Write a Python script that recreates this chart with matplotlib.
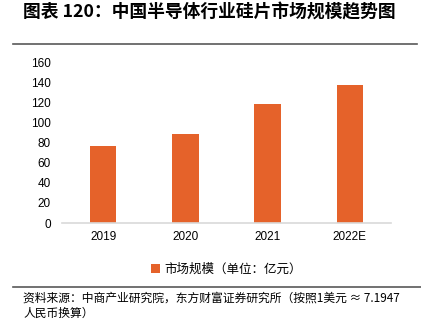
import matplotlib.pyplot as plt
from matplotlib.lines import Line2D

plt.rcParams['font.family'] = ['Liberation Sans', 'Noto Sans CJK SC', 'DejaVu Sans']

years = ['2019', '2020', '2021', '2022E']
market_size = [77, 89, 119, 138]
yticks = [0, 20, 40, 60, 80, 100, 120, 140, 160]

bar_color = '#E5622A'

fig = plt.figure(figsize=(4.21, 3.21), dpi=100)
ax = fig.add_axes([62 / 421, 1 - 223 / 321, 329 / 421, 160 / 321])

x = range(len(years))
ax.bar(x, market_size, width=0.32, color=bar_color, label='市场规模（单位：亿元）')
ax.set_xlim(-0.5, len(years) - 0.5)
ax.set_ylim(0, 160)
ax.set_xticks(list(x))
ax.set_xticklabels(years, fontsize=8.5)
ax.set_yticks(yticks)
ax.set_yticklabels([str(v) for v in yticks], fontsize=8.5)
ax.tick_params(length=0, pad=6)
ax.tick_params(axis='y', pad=8)
for s in ['top', 'right', 'left']:
    ax.spines[s].set_visible(False)
ax.spines['bottom'].set_color('#d9d9d9')
ax.spines['bottom'].set_linewidth(1.2)

leg = ax.legend(loc='center', bbox_to_anchor=(0.5, -0.29), frameon=False,
                handlelength=0.7, handleheight=0.7, handletextpad=0.4,
                prop={'family': ['Noto Sans CJK SC'], 'size': 9})

# title and frame lines
fig.text(23 / 421, 1 - 12 / 321, '图表 120：中国半导体行业硅片市场规模趋势图',
         fontsize=12.8, fontweight='bold', va='center', ha='left',
         family=['Noto Sans CJK SC'])
fig.add_artist(Line2D([13 / 421, 417 / 421], [1 - 44 / 321] * 2, color='#595959', lw=1.2))
fig.add_artist(Line2D([13 / 421, 1.0], [1 - 287 / 321] * 2, color='#595959', lw=1.2))

fig.text(23 / 421, 1 - 298 / 321, '资料来源：中商产业研究院，东方财富证券研究所（按照1美元 ≈ 7.1947',
         fontsize=8.5, va='center', ha='left', family=['Noto Sans CJK SC', 'DejaVu Sans'])
fig.text(23 / 421, 1 - 313 / 321, '人民币换算）',
         fontsize=8.5, va='center', ha='left', family=['Noto Sans CJK SC', 'DejaVu Sans'])

fig.savefig('out.png', dpi=100)
